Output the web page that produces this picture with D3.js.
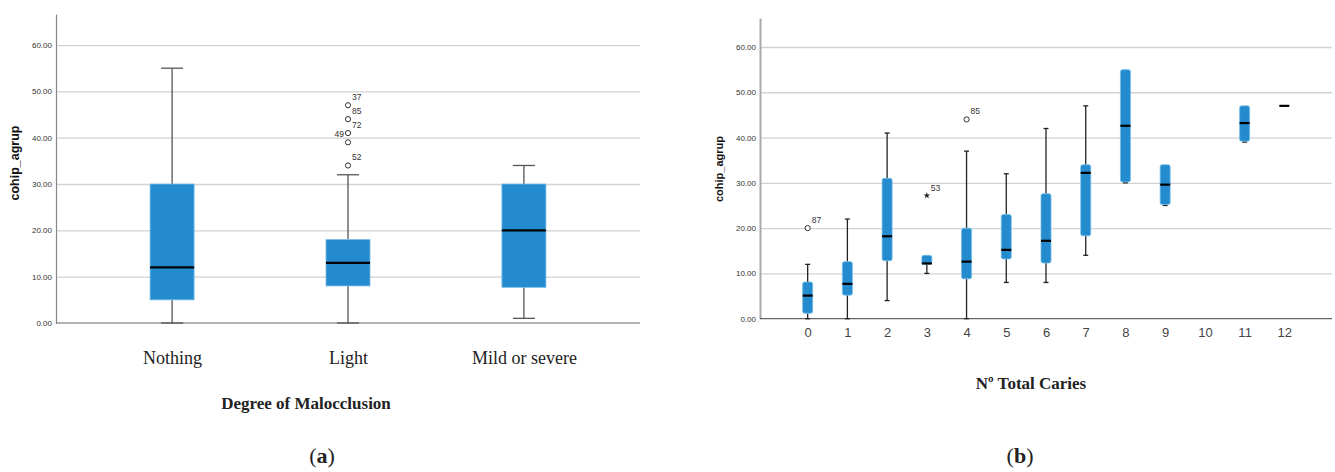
<!DOCTYPE html>
<html>
<head>
<meta charset="utf-8">
<script src="https://cdn.jsdelivr.net/npm/d3@7/dist/d3.min.js"></script>
<style>
  body { margin: 0; background: #fff; }
  svg text { font-family: "Liberation Sans", Arial, sans-serif; }
</style>
</head>
<body>
<div id="chart"></div>
<script>
// panel (a): cohip_agrup by degree of malocclusion
var malCats = ["Nothing", "Light", "Mild or severe"];
var malMin = [0, 0, 1];
var malQ1 = [5, 8, 7.7];
var malMed = [12, 13, 20];
var malQ3 = [30, 18, 30];
var malMax = [55, 32, 34];
var malOutCat = ["Light", "Light", "Light", "Light", "Light"];
var malOutVal = [47, 44, 41, 39, 34];
var malOutId = ["37", "85", "72", "49", "52"];

// panel (b): cohip_agrup by number of total caries
var carCats = ["0","1","2","3","4","5","6","7","8","9","10","11","12"];
var carMin = [0, 0, 4, 10, 0, 8, 8, 14, 30, 25, null, 39, 47];
var carQ1 = [1.2, 5.2, 12.8, 12, 8.8, 13.2, 12.3, 18.3, 30.2, 25.2, null, 39.2, 47];
var carMed = [5.1, 7.7, 18.2, 12.2, 12.6, 15.2, 17.2, 32.2, 42.6, 29.6, null, 43.2, 47];
var carQ3 = [8.1, 12.6, 31, 14, 20, 23, 27.6, 34, 55, 34, null, 47, 47];
var carMax = [12, 22, 41, 14, 37, 32, 42, 47, 55, 34, null, 47, 47];
var carOutCat = ["0", "4"];
var carOutVal = [20, 44];
var carOutId = ["87", "85"];
var carExtCat = ["3"];
var carExtVal = [27.2];
var carExtId = ["53"];

var yTicks = [0, 10, 20, 30, 40, 50, 60];

var w = 1335, h = 472;
var boxFill = "#238bce", boxEdge = "#74bdea";
var serif = "'Liberation Serif', 'Times New Roman', serif";

var svg = d3.select("#chart").append("svg")
  .attr("width", w)
  .attr("height", h);

//Draw one boxplot panel
function panel(o) {
  var g = svg.append("g");
  var x = d3.scalePoint().domain(o.cats).range([o.x0, o.x1]).padding(o.pad);
  var y = d3.scaleLinear().domain([0, o.yTop]).range([o.y0, o.y1]);

  //gridlines
  g.append("g")
    .attr("transform", "translate(" + o.x0 + ",0)")
    .call(d3.axisLeft(y).tickValues(yTicks.slice(1)).tickSize(-(o.x1 - o.x0)).tickFormat(""))
    .call(function(s) {
      s.select(".domain").remove();
      s.selectAll("line").attr("stroke", "#d2d2d2").attr("stroke-width", 1.3);
    });

  //y axis
  g.append("g")
    .attr("transform", "translate(" + o.x0 + ",0)")
    .call(d3.axisLeft(y).tickValues(yTicks).tickSize(0).tickPadding(4).tickFormat(d3.format(".2f")))
    .call(function(s) {
      s.select(".domain").attr("stroke", o.yAxisColor).attr("stroke-width", o.yAxisWidth);
      s.selectAll("text").attr("font-size", 8).attr("fill", "#333")
        .style("font-family", "'Liberation Sans', Arial, sans-serif");
    });

  //x axis
  g.append("g")
    .attr("transform", "translate(0," + o.y0 + ")")
    .call(d3.axisBottom(x).tickSize(0).tickPadding(0))
    .call(function(s) {
      s.select(".domain").attr("stroke", "#666").attr("stroke-width", 1.2)
        .attr("d", "M" + o.x0 + ",0H" + o.x1);
      s.selectAll("text")
        .attr("dy", null)
        .attr("y", o.catDy)
        .attr("font-size", o.catSize)
        .attr("fill", o.catColor)
        .style("font-family", o.catSerif ? serif : "'Liberation Sans', Arial, sans-serif");
    });

  var bw = o.boxW, cw = o.capW;
  o.cats.forEach(function(c, i) {
    if (o.min[i] == null) return;
    var cx = x(c);
    var wc = o.whisker;
    //whiskers
    if (o.max[i] > o.q3[i]) {
      g.append("line").attr("x1", cx).attr("x2", cx).attr("y1", y(o.q3[i])).attr("y2", y(o.max[i]))
        .attr("stroke", wc).attr("stroke-width", 1.3);
      g.append("line").attr("x1", cx - cw / 2).attr("x2", cx + cw / 2).attr("y1", y(o.max[i])).attr("y2", y(o.max[i]))
        .attr("stroke", wc).attr("stroke-width", 1.3);
    }
    if (o.min[i] < o.q1[i]) {
      g.append("line").attr("x1", cx).attr("x2", cx).attr("y1", y(o.q1[i])).attr("y2", y(o.min[i]))
        .attr("stroke", wc).attr("stroke-width", 1.3);
      g.append("line").attr("x1", cx - cw / 2).attr("x2", cx + cw / 2).attr("y1", y(o.min[i])).attr("y2", y(o.min[i]))
        .attr("stroke", wc).attr("stroke-width", 1.3);
    }
    //box
    if (o.q3[i] > o.q1[i]) {
      g.append("rect")
        .attr("x", cx - bw / 2).attr("width", bw)
        .attr("y", y(o.q3[i])).attr("height", y(o.q1[i]) - y(o.q3[i]))
        .attr("rx", o.rx)
        .attr("fill", boxFill).attr("stroke", boxEdge).attr("stroke-width", 0.8);
    }
    //median
    g.append("line").attr("x1", cx - bw / 2).attr("x2", cx + bw / 2)
      .attr("y1", y(o.med[i])).attr("y2", y(o.med[i]))
      .attr("stroke", "#000").attr("stroke-width", 2.2);
  });

  //outliers
  o.outVal.forEach(function(v, i) {
    var cx = x(o.outCat[i]);
    g.append("circle").attr("cx", cx).attr("cy", y(v)).attr("r", 2.6)
      .attr("fill", "#fff").attr("stroke", "#333").attr("stroke-width", 1);
    var left = o.outLeft && o.outLeft.indexOf(o.outId[i]) >= 0;
    g.append("text")
      .attr("x", left ? cx - 4 : cx + 4).attr("y", y(v) - 5)
      .attr("text-anchor", left ? "end" : "start")
      .attr("font-size", 8.5).attr("fill", "#333")
      .text(o.outId[i]);
  });

  //extremes
  (o.extVal || []).forEach(function(v, i) {
    var cx = x(o.extCat[i]);
    g.append("path")
      .attr("transform", "translate(" + cx + "," + y(v) + ")")
      .attr("d", d3.symbol().type(d3.symbolStar).size(14)())
      .attr("fill", "#222");
    g.append("text")
      .attr("x", cx + 4).attr("y", y(v) - 5)
      .attr("font-size", 8.5).attr("fill", "#333")
      .text(o.extId[i]);
  });

  //y title
  g.append("text")
    .attr("transform", "translate(" + o.yTitleX + "," + o.yTitleY + ") rotate(-90)")
    .attr("text-anchor", "middle")
    .attr("font-size", o.yTitleSize)
    .attr("font-weight", "bold")
    .attr("fill", "#111")
    .text("cohip_agrup");
}

panel({
  cats: malCats, min: malMin, q1: malQ1, med: malMed, q3: malQ3, max: malMax,
  outCat: malOutCat, outVal: malOutVal, outId: malOutId, outLeft: ["49"],
  x0: 56, x1: 640, pad: 0.66, y0: 323, y1: 14, yTop: 66.7,
  boxW: 44, capW: 22, rx: 0, whisker: "#555",
  yAxisColor: "#888", yAxisWidth: 1.2,
  catSerif: true, catSize: 18, catDy: 41, catColor: "#222",
  yTitleX: 19, yTitleY: 163, yTitleSize: 12.5
});

panel({
  cats: carCats, min: carMin, q1: carQ1, med: carMed, q3: carQ3, max: carMax,
  outCat: carOutCat, outVal: carOutVal, outId: carOutId,
  extCat: carExtCat, extVal: carExtVal, extId: carExtId,
  x0: 760, x1: 1332, pad: 1.2, y0: 318.7, y1: 18, yTop: 66.4,
  boxW: 10, capW: 5, rx: 2, whisker: "#222",
  yAxisColor: "#aaa", yAxisWidth: 2,
  catSerif: false, catSize: 13, catDy: 18, catColor: "#444",
  yTitleX: 723, yTitleY: 169, yTitleSize: 11
});

//axis titles and panel letters
svg.append("text")
  .attr("x", 306).attr("y", 409).attr("text-anchor", "middle")
  .attr("font-size", 17).attr("font-weight", "bold").attr("fill", "#222")
  .style("font-family", serif)
  .text("Degree of Malocclusion");

svg.append("text")
  .attr("x", 1031).attr("y", 389).attr("text-anchor", "middle")
  .attr("font-size", 17).attr("font-weight", "bold").attr("fill", "#222")
  .style("font-family", serif)
  .text("Nº Total Caries");

var letters = [["a", 322], ["b", 1020]];
letters.forEach(function(l) {
  var t = svg.append("text")
    .attr("x", l[1]).attr("y", 463).attr("text-anchor", "middle")
    .attr("font-size", 22).attr("fill", "#222")
    .style("font-family", serif);
  t.append("tspan").text("(");
  t.append("tspan").attr("font-weight", "bold").text(l[0]);
  t.append("tspan").text(")");
});
</script>
</body>
</html>
